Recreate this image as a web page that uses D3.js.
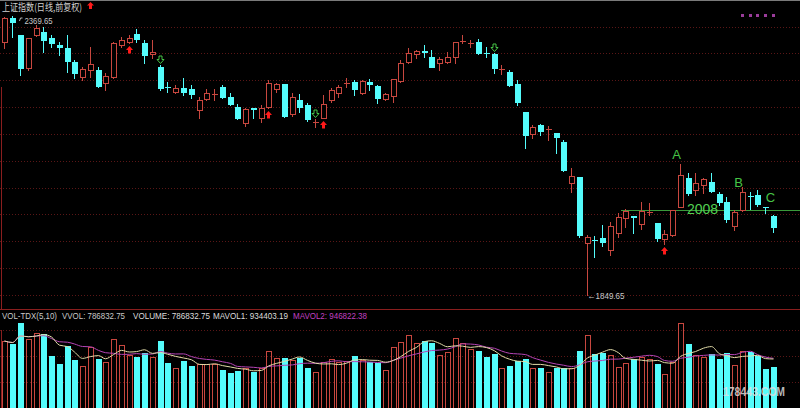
<!DOCTYPE html>
<html><head><meta charset="utf-8">
<script src="https://cdn.jsdelivr.net/npm/d3@7"></script>
<style>
html,body{margin:0;padding:0;background:#000;}
svg{display:block;}
</style></head><body>
<svg id="c" width="800" height="408"></svg>
<script>
// ---------- data ----------
const title = "上证指数(日线,前复权)";
const open = [2321,2366,2334,2273,2334,2340,2329,2316,2310,2284,
2256,2269,2269,2245,2256,2316,2321,2336,2319,2299,
2275,2237.5,2228,2236,2234,2194,2215,2224,2237,2219,
2200,2170,2198.5,2180,2200,2234,2243,2187,2213,2204,
2172,2180,2213,2226,2245,2247,2226,2247,2239,2215,
2221,2248,2284,2299,2303.5,2293,2282,2284,2293,2323,
2319,2321,2301,2299,2271,2265,2243,2191,2150,2167,
2159,2152,2135,2058,2070,1947,1953,1956,1934,1965,
1993,1996,1982,2004,1984,1954,1961,2014,2068,2045,
2055,2060,2038,2023,1978,2008,2035,2036,2014,1997];
const close = [2366,2358,2273,2329,2347,2325,2319,2312,2286,2263,
2271,2280,2239,2258,2319,2325,2329,2327,2297,2303,
2236,2237,2236,2228,2224,2213,2226,2224.5,2219,2206,
2180,2196,2196,2198,2245,2243,2183,2219,2200,2178,
2172.5,2206,2232,2237,2245.5,2234,2249,2243,2217,2224,
2252,2282,2301,2304,2303,2275,2290,2293,2321,2323.5,
2319.5,2301,2300.5,2273,2271.5,2241,2209,2148,2163,2155,
2159.5,2144,2083,2071,1961,1958,1952.5,1948,1978,1995,
2006,1995.5,2006,2004.5,1956,1963,2008,2073,2040,2058,
2066,2043,2023,1991,2004,2042,2034.5,2019,2013.5,1976];
const high = [2367,2369.65,2334,2329,2353,2349,2334,2321,2334,2288,
2275,2312,2275,2263,2321,2331,2334,2345,2325,2325,
2278,2247,2241,2254,2241,2219,2234,2234,2241,2226,
2206,2198,2198.5,2204,2250,2245,2243,2226,2224,2208,
2178,2222,2235,2241,2254,2250,2250,2252,2241,2226,
2253,2288,2310,2306,2316,2306,2293,2303,2322,2334,
2325,2327,2312,2301,2278,2269,2250,2191,2167,2168,
2165,2152,2139,2086,2070,1961,1960,1980,1986,2002,
2010,1997,2023,2021,1984,1971,2009,2094,2077,2077,
2068,2077,2042,2032,2008,2051,2042,2045,2014.5,1999];
const low = [2310,2330.5,2260,2269,2332,2303,2312,2297,2265,2254,
2250,2256,2237,2232,2254,2312,2319,2321,2282,2291,
2232,2228,2226,2222,2217,2180,2213,2213,2217,2204,
2178,2165,2180,2172,2199,2228,2181,2183,2191,2174,
2163,2179,2209,2219,2237,2222,2225,2232,2208,2213,
2209,2247,2282,2291,2293,2274,2269,2282,2282,2319,
2312,2299,2293,2263,2262,2239,2204,2124,2142,2148,
2139,2114,2081,2042,1958,1849.65,1920,1941,1924,1958,
1976,1965,1973,1999,1950,1945,1960,2013,2036,2036,
2040,2042,2017,1986,1971,2007,2010,2015,2002,1967];
const volume = [1213000,1164000,1509000,1246000,1345000,1328000,967000,836000,1131000,902000,
803000,1115000,918000,869000,1246000,1148000,984000,951000,1017000,951000,
1213000,853000,771000,885000,803000,836000,836000,836000,738000,689000,
721000,771000,705000,771000,1049000,935000,935000,902000,935000,771000,
705000,869000,918000,869000,885000,967000,902000,869000,853000,738000,
1115000,1197000,1312000,1181000,1213000,1181000,984000,1033000,1263000,1181000,
1082000,1049000,951000,1000000,771000,803000,885000,918000,771000,771000,
705000,771000,771000,771000,1049000,1312000,1000000,1017000,984000,787000,
853000,918000,951000,918000,836000,672000,869000,1509000,1164000,984000,
951000,1000000,918000,1017000,820000,1049000,1033000,967000,754000,786832.75];
const days = d3.range(open.length);           // trading-day index (categories)
const priceTicks = [1850,1900,1950,2000,2050,2100,2150,2200,2250,2300,2350];
const volTicks = [541000,967000,1394000];
const buySignals = [16,34,41,85];             // red up arrows under candles
const sellSignals = [20,40,63];               // green hollow down arrows above candles
const waveLabels = ["A","B","C"];
const waveIdx = [87,95,98];
const supportLevel = 2008;
const supportStart = 80;
const headerParts = ["VOL-TDX(5,10)","VVOL: 786832.75","VOLUME: 786832.75","MAVOL1: 934403.19","MAVOL2: 946822.38"];

// ---------- styles ----------
const RED = "#c8473f", CYAN = "#54fcfc", GRID = "#5a1616", FRAME = "#8a1e1e", GREEN = "#46c446";

const svg = d3.select("#c");
svg.append("rect").attr("width",800).attr("height",408).attr("fill","#000");

const x = d3.scaleBand().domain(days).range([1.62, 777.9]).paddingInner(0.22).paddingOuter(0.11);
const y = d3.scaleLinear().domain([1849.65, 2369.65]).range([295, 16]);
const yv = d3.scaleLinear().domain([0, 1500000]).range([415, 323.5]);
const L = i => Math.round(x(i));
const BW = Math.round(x.bandwidth());
const CX = i => L(i) + 2.5;
const py = v => Math.round(y(v));

// frame
svg.append("line").attr("x1",0).attr("x2",800).attr("y1",0.5).attr("y2",0.5).attr("stroke","#7a7a7a");
svg.append("line").attr("x1",0).attr("x2",800).attr("y1",309.5).attr("y2",309.5).attr("stroke",FRAME);
svg.append("line").attr("x1",1.5).attr("x2",1.5).attr("y1",87).attr("y2",309).attr("stroke",FRAME);
svg.append("line").attr("x1",1.5).attr("x2",1.5).attr("y1",330).attr("y2",408).attr("stroke",FRAME);

// price grid
svg.append("g").selectAll("line").data(priceTicks).join("line")
  .attr("x1",0).attr("x2",800)
  .attr("y1",d=>py(d)+0.5).attr("y2",d=>py(d)+0.5)
  .attr("stroke",GRID).attr("stroke-dasharray","1,2");
// volume grid
svg.append("g").selectAll("line").data(volTicks).join("line")
  .attr("x1",0).attr("x2",800)
  .attr("y1",d=>Math.round(yv(d))+0.5).attr("y2",d=>Math.round(yv(d))+0.5)
  .attr("stroke",GRID).attr("stroke-dasharray","1,2");

// support line
const sy = py(supportLevel)+0.5;
svg.append("line").attr("x1",L(supportStart)-2).attr("x2",800).attr("y1",sy).attr("y2",sy)
  .attr("stroke","#3a9a3a").attr("stroke-width",1);

// candles
const cg = svg.append("g");
days.forEach(i=>{
  const o=open[i], c=close[i], h=high[i], l=low[i];
  const up = c >= o;
  const col = up ? RED : CYAN;
  const top = py(Math.max(o,c)), bot = py(Math.min(o,c));
  const cx = CX(i), left = L(i);
  if (bot - top < 1) {
    cg.append("line").attr("x1",cx).attr("x2",cx).attr("y1",py(h)).attr("y2",py(l)+1).attr("stroke",col);
    cg.append("line").attr("x1",left).attr("x2",left+BW).attr("y1",top+0.5).attr("y2",top+0.5).attr("stroke",col);
  } else if (up) {
    cg.append("line").attr("x1",cx).attr("x2",cx).attr("y1",py(h)).attr("y2",top).attr("stroke",col);
    cg.append("line").attr("x1",cx).attr("x2",cx).attr("y1",bot+1).attr("y2",py(l)+1).attr("stroke",col);
    cg.append("rect").attr("x",left+0.5).attr("y",top+0.5).attr("width",BW-1).attr("height",bot-top)
      .attr("fill","#000").attr("stroke",col);
  } else {
    cg.append("line").attr("x1",cx).attr("x2",cx).attr("y1",py(h)).attr("y2",py(l)+1).attr("stroke",col);
    cg.append("rect").attr("x",left).attr("y",top).attr("width",BW).attr("height",bot-top+1).attr("fill",col);
  }
});

// signals
svg.append("g").selectAll("path").data(buySignals).join("path")
  .attr("transform",i=>`translate(${CX(i)},${py(low[i])+3})`)
  .attr("d","M0,0 L3.5,4 L1.5,4 L1.5,7.5 L-1.5,7.5 L-1.5,4 L-3.5,4 Z")
  .attr("fill","#ff1a1a");
svg.append("g").selectAll("path").data(sellSignals).join("path")
  .attr("transform",i=>`translate(${CX(i)},${py(high[i])-9})`)
  .attr("d","M-1.5,0 L1.5,0 L1.5,3.5 L3.5,3.5 L0,7.5 L-3.5,3.5 L-1.5,3.5 Z")
  .attr("fill","none").attr("stroke",GREEN).attr("stroke-width",1);

// high / low labels
const hi = d3.maxIndex(high), lo = d3.minIndex(low);
svg.append("path").attr("d",`M${CX(hi)+7},${py(high[hi])+5} L${CX(hi)+8},${py(high[hi])+2} L${CX(hi)+10},${py(high[hi])+2}`)
  .attr("stroke","#bbb").attr("fill","none");
svg.append("text").attr("x",CX(hi)+12).attr("y",py(high[hi])+8).text(high[hi].toFixed(2))
  .attr("fill","#c8c8c8").attr("font-family","Liberation Sans").attr("font-size",9.5)
  .attr("textLength",28).attr("lengthAdjust","spacingAndGlyphs");
svg.append("text").attr("x",CX(lo)).attr("y",py(low[lo])+3.5).text("←"+low[lo].toFixed(2))
  .attr("fill","#c8c8c8").attr("font-family","Liberation Sans").attr("font-size",9.5)
  .attr("textLength",37).attr("lengthAdjust","spacingAndGlyphs");

// wave labels
const waveDx = [-4,-4,5], waveDy = [-5,0,-5];
svg.append("g").selectAll("text").data(waveLabels).join("text")
  .attr("x",(d,k)=>CX(waveIdx[k])+waveDx[k])
  .attr("y",(d,k)=>py(high[waveIdx[k]])+waveDy[k])
  .attr("text-anchor","middle").attr("fill",GREEN)
  .attr("font-family","Liberation Sans").attr("font-size",13).text(d=>d);
svg.append("text").attr("x",CX(90)-1).attr("y",sy+3.5).attr("text-anchor","middle")
  .attr("fill","#52d052").attr("font-family","Liberation Sans").attr("font-size",14).text(String(supportLevel));

// title
svg.append("text").attr("x",2).attr("y",11).text(title).attr("fill","#d0d0d0")
  .attr("font-family","Noto Sans CJK SC").attr("font-size",10)
  .attr("textLength",80).attr("lengthAdjust","spacingAndGlyphs");
svg.append("path").attr("transform","translate(90.5,2)")
  .attr("d","M0,0 L3.5,3.5 L1.5,3.5 L1.5,7 L-1.5,7 L-1.5,3.5 L-3.5,3.5 Z").attr("fill","#ff1a1a");
// last-5-day markers
svg.append("g").selectAll("rect").data(days.slice(-5)).join("rect")
  .attr("x",i=>CX(i)-1.5).attr("y",14).attr("width",3).attr("height",3).attr("fill","#9a3c9a");

// volume bars
const vg = svg.append("g");
days.forEach(i=>{
  const up = close[i] >= open[i];
  const t = Math.round(yv(volume[i]));
  if (up) vg.append("rect").attr("x",L(i)+0.5).attr("y",t+0.5).attr("width",BW-1).attr("height",420-t)
      .attr("fill","none").attr("stroke",RED);
  else vg.append("rect").attr("x",L(i)).attr("y",t).attr("width",BW).attr("height",420-t).attr("fill",CYAN);
});

// volume MAs
const ma = n => days.map(i => d3.mean(volume.slice(Math.max(0,i-n+1), i+1)));
const ma5 = ma(5), ma10 = ma(10);
const line = d3.line().x((d,i)=>CX(i)).y(d=>yv(d)).curve(d3.curveMonotoneX);
svg.append("path").attr("d",line(ma10)).attr("fill","none").attr("stroke","#b544b5").attr("stroke-width",1);
svg.append("path").attr("d",line(ma5)).attr("fill","none").attr("stroke","#e2dca8").attr("stroke-width",1);

// volume header
const hx = [2,62,133,213,293], hw = [55,63,77,75,74];
const hc = ["#c8c8c8","#c8c8c8","#dcdcdc","#dcdcdc","#c040c0"];
svg.append("g").selectAll("text").data(headerParts).join("text")
  .attr("x",(d,k)=>hx[k]).attr("y",319).attr("fill",(d,k)=>hc[k])
  .attr("font-family","Liberation Sans").attr("font-size",9)
  .attr("textLength",(d,k)=>hw[k]).attr("lengthAdjust","spacingAndGlyphs").text(d=>d);

// watermark
svg.append("text").attr("x",723).attr("y",396).text("178443.COM")
  .attr("fill","#dcdcdc").attr("fill-opacity",0.85).attr("font-family","Liberation Sans").attr("font-weight","bold")
  .attr("font-size",13).attr("textLength",62).attr("lengthAdjust","spacingAndGlyphs");
</script>
</body></html>
